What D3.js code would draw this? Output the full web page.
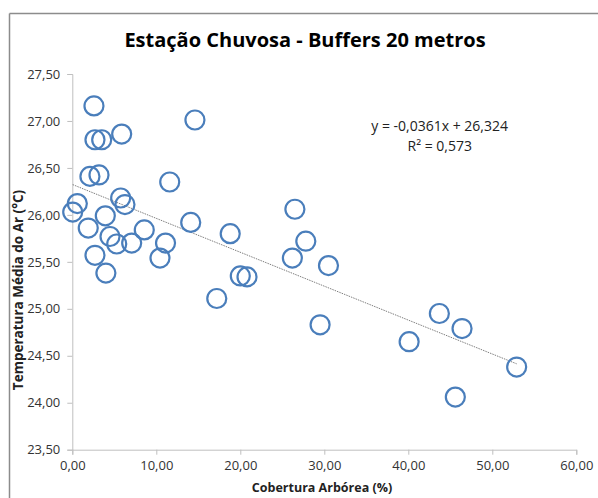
<!DOCTYPE html>
<html><head><meta charset="utf-8">
<script src="https://cdn.jsdelivr.net/npm/d3@7"></script>
<style>body{margin:0;background:#fff}svg{display:block}text{font-family:"Open Sans",sans-serif}</style>
</head><body><svg id="c" width="598" height="498"></svg>
<script>
const title = "Estação Chuvosa - Buffers 20 metros";
const xLabel = "Cobertura Arbórea (%)";
const yLabel = "Temperatura Média do Ar (°C)";
const coverage = [2.58,14.6,2.7,3.5,5.88,2.1,3.18,11.6,0.6,0.05,5.76,6.27,14.1,3.93,1.9,4.49,8.57,5.29,7.07,11.1,2.7,10.44,4.0,
  26.5,18.8,27.8,26.2,30.5,20.0,20.8,17.2,29.5,43.7,46.4,40.1,52.9,45.6];
const temperature = [27.16,27.01,26.80,26.80,26.86,26.41,26.425,26.35,26.12,26.03,26.18,26.11,25.92,25.99,25.86,25.77,25.84,25.69,25.70,25.70,25.57,25.54,25.38,
  26.06,25.80,25.72,25.54,25.46,25.35,25.34,25.11,24.83,24.95,24.79,24.65,24.38,24.06];
const slope = -0.0361, intercept = 26.324;
const eqText = "y = -0,0361x + 26,324";
const r2Text = "R² = 0,573";
const xTicks = [0,10,20,30,40,50,60];
const yTicks = [23.5,24,24.5,25,25.5,26,26.5,27,27.5];

const svg = d3.select("#c");
const fmt = v => v.toFixed(2).replace(".", ",");
const x = d3.scaleLinear().domain([0,60]).range([72.3,576.3]);
const y = d3.scaleLinear().domain([23.5,27.5]).range([449.7,74]);

// chart border
svg.append("line").attr("x1",9.5).attr("x2",598).attr("y1",13.5).attr("y2",13.5).attr("stroke","#8c8c8c").attr("stroke-width",1.5);
svg.append("line").attr("x1",9.5).attr("x2",9.5).attr("y1",13.5).attr("y2",498).attr("stroke","#8c8c8c").attr("stroke-width",1.5);

svg.append("text").attr("x",305).attr("y",47).attr("text-anchor","middle")
  .attr("font-size",20).attr("font-weight","bold").attr("fill","#000").text(title);

const gx = svg.append("g").attr("transform",`translate(0,${y(23.5)})`)
  .call(d3.axisBottom(x).tickValues(xTicks).tickFormat(fmt).tickSize(5).tickPadding(6));
const gy = svg.append("g").attr("transform",`translate(${x(0)},0)`)
  .call(d3.axisLeft(y).tickValues(yTicks).tickFormat(fmt).tickSize(5).tickPadding(7));
[gx,gy].forEach(g=>{
  g.selectAll("path,line").attr("stroke","#bfbfbf");
  g.selectAll("text").attr("font-size",13).attr("fill","#333").attr("font-family","Open Sans, sans-serif");
});

// trendline
const xmin = d3.min(coverage), xmax = d3.max(coverage);
svg.append("line").attr("x1",x(xmin)).attr("y1",y(intercept+slope*xmin))
  .attr("x2",x(xmax)).attr("y2",y(intercept+slope*xmax))
  .attr("stroke","#7f7f7f").attr("stroke-width",1).attr("stroke-dasharray","1.5,1");

svg.append("g").selectAll("circle").data(coverage).join("circle")
  .attr("cx",d=>x(d)).attr("cy",(d,i)=>y(temperature[i])).attr("r",9.5)
  .attr("fill","none").attr("stroke","#4a7ebb").attr("stroke-width",2.2);

svg.append("text").attr("x",508).attr("y",131).attr("text-anchor","end").attr("font-size",14).attr("fill","#222").text(eqText);
svg.append("text").attr("x",472).attr("y",150.5).attr("text-anchor","end").attr("font-size",14).attr("fill","#222").text(r2Text);

svg.append("text").attr("x",322).attr("y",492).attr("text-anchor","middle").attr("font-size",12.5).attr("font-weight","bold").attr("fill","#222").text(xLabel);
svg.append("text").attr("transform","translate(23,290) rotate(-90)").attr("text-anchor","middle").attr("font-size",13.5).attr("font-weight","bold").attr("fill","#222").text(yLabel);
</script></body></html>
